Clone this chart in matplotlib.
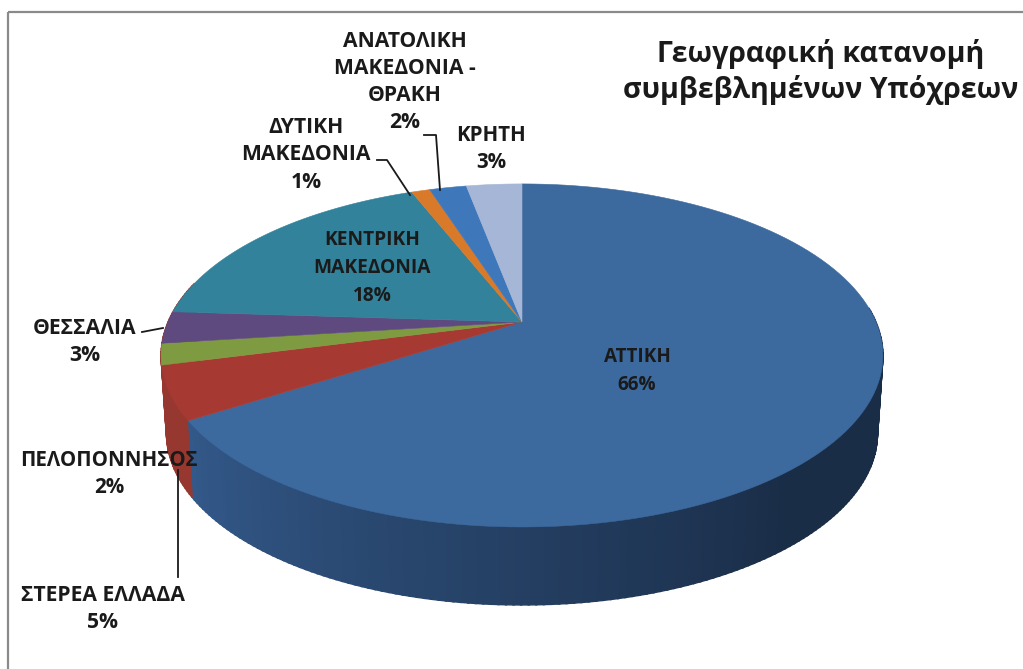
import matplotlib
matplotlib.use('Agg')
import matplotlib.pyplot as plt
import numpy as np

plt.rcParams['font.family'] = ['Open Sans', 'DejaVu Sans']

regions = ['ΑΤΤΙΚΗ', 'ΣΤΕΡΕΑ ΕΛΛΑΔΑ', 'ΠΕΛΟΠΟΝΝΗΣΟΣ', 'ΘΕΣΣΑΛΙΑ', 'ΚΕΝΤΡΙΚΗ\nΜΑΚΕΔΟΝΙΑ',
           'ΔΥΤΙΚΗ\nΜΑΚΕΔΟΝΙΑ', 'ΑΝΑΤΟΛΙΚΗ\nΜΑΚΕΔΟΝΙΑ -\nΘΡΑΚΗ', 'ΚΡΗΤΗ']
shares = [66, 5, 2, 3, 18, 1, 2, 3]
top_colors = ['#3c699e', '#a63a33', '#7f9b41', '#5f4a80', '#31829a', '#d97a2b', '#3f78ba', '#a6b6d6']
label_xy = [(637, 371), (103, 609), (109, 474), (85, 342), (372, 268), (306, 155), (405, 82), (491, 149)]
label_size = [13.6, 15.2, 14.8, 15.2, 13.8, 15.2, 15.2, 14.8]
leaders = [None, [(178, 577), (178, 470)], None, [(142, 332), (163, 328)], None,
           [(377, 160), (387, 160), (410, 195)], [(424, 135), (436, 135), (440, 190)], None]
title = 'Γεωγραφική κατανομή\nσυμβεβλημένων Υπόχρεων'

# perspective view of the disc, in image pixels
apex = (522, 322)
rx, ry, k = 354, 165, 0.195
depth, shrink = 78, 0.985


def rim(theta, drop=0, scale=1.0):
    # theta is clockwise from 12 o'clock, radians
    x, y = np.sin(theta), np.cos(theta)
    w = 1 + k * y
    return apex[0] + scale * rx * x / w, apex[1] - ry * y / w + drop


def lerp(c0, c1, t):
    a, b = np.array(matplotlib.colors.to_rgb(c0)), np.array(matplotlib.colors.to_rgb(c1))
    return a + (b - a) * t


fig = plt.figure(figsize=(10.23, 6.69), dpi=100, facecolor='white')
ax = fig.add_axes([0, 0, 1, 1])
ax.set_xlim(0, 1023)
ax.set_ylim(669, 0)
ax.axis('off')

# chart frame
ax.plot([8, 8], [669, 12], color='#8a8a8a', lw=1.6, solid_capstyle='butt')
ax.plot([8, 1023], [12, 12], color='#8a8a8a', lw=1.6, solid_capstyle='butt')

edges = np.radians(np.cumsum([0] + shares) * 3.6)

# side wall, only the front of the disc shows
steps = np.radians(np.arange(85, 285, 1.0))
for a0, a1 in zip(steps[:-1], steps[1:]):
    if a0 < edges[1]:
        col = lerp('#1a2d47', '#33598a', min(1, max(0, (a0 - np.radians(140)) / np.radians(97))))
    else:
        col = '#96382f'
    th = np.array([a0, a1 + 0.004])
    x0, y0 = rim(th)
    x1, y1 = rim(th[::-1], depth, shrink)
    ax.fill(np.r_[x0, x1], np.r_[y0, y1], color=col, lw=1.0)

# top face
for i, col in enumerate(top_colors):
    th = np.linspace(edges[i], edges[i + 1], 120)
    xs, ys = rim(th)
    ax.fill(np.r_[apex[0], xs], np.r_[apex[1], ys], facecolor=col, edgecolor=col, lw=0.4)

for name, share, (lx, ly), size, line in zip(regions, shares, label_xy, label_size, leaders):
    ax.text(lx, ly, '{}\n{}%'.format(name, share), ha='center', va='center', fontsize=size,
            fontweight='bold', color='#1a1a1a', linespacing=1.42 * 14.8 / size)
    if line:
        ax.plot(*zip(*line), color='#1a1a1a', lw=1.3)

ax.text(821, 72, title, ha='center', va='center', fontsize=20.5, fontweight='bold',
        color='#1a1a1a', linespacing=1.28)

fig.savefig('out.png', dpi=100)
